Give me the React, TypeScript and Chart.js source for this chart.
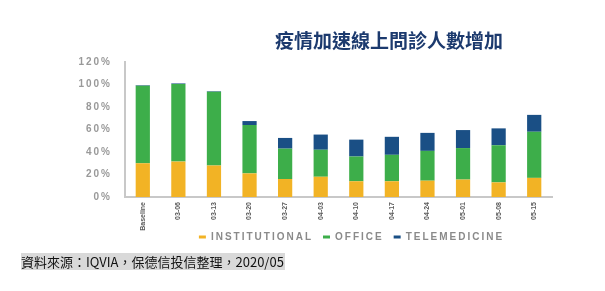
import React, { useEffect, useRef } from "react";
import { Chart, registerables } from "chart.js";

Chart.register(...registerables);

const categories = ["Baseline", "03-06", "03-13", "03-20", "03-27", "04-03", "04-10", "04-17", "04-24", "05-01", "05-08", "05-15"];
const institutional = [30, 31.5, 28, 21, 16, 18, 14, 14, 14.5, 15.5, 13, 17];
const office = [69, 69, 65.5, 43, 27, 24, 22, 23.5, 26.5, 28, 33, 41];
const telemedicine = [0.5, 0.5, 0.5, 3.5, 9.5, 13.5, 15, 16, 16, 16, 15, 15];
const yTicks = [0, 20, 40, 60, 80, 100, 120];
const titleText = "疫情加速線上問診人數增加";
const sourceText = "資料來源：IQVIA，保德信投信整理，2020/05";

const spacingPlugin = {
  id: "spacing",
  afterInit(chart: any) {
    chart.ctx.letterSpacing = "2px";
  },
  afterLayout(chart: any) {
    const lg = chart.legend;
    if (lg) {
      const h = lg.bottom - lg.top;
      const dx = 13;
      lg.left += dx;
      lg.right += dx;
      const top = 237 - h / 2;
      lg.top = top;
      lg.bottom = top + h;
    }
  },
};

const xLabelPlugin = {
  id: "xLabels",
  afterDraw(chart: any) {
    const sx = chart.scales.x;
    const ctx = chart.ctx;
    ctx.save();
    ctx.letterSpacing = "0px";
    ctx.fillStyle = "#5a5a5a";
    ctx.font = "bold 7px 'Liberation Sans', Arial";
    ctx.textAlign = "right";
    ctx.textBaseline = "middle";
    categories.forEach((c, i) => {
      const x = sx.getPixelForTick(i);
      ctx.save();
      ctx.translate(x, sx.top + 5);
      ctx.rotate(-Math.PI / 2);
      ctx.fillText(c, 0, 0);
      ctx.restore();
    });
    ctx.restore();
  },
};

export default function App() {
  const ref = useRef<HTMLCanvasElement | null>(null);
  useEffect(() => {
    if (!ref.current) return;
    const chart = new Chart(ref.current, {
      type: "bar",
      data: {
        labels: categories,
        datasets: [
          { label: "INSTITUTIONAL", data: institutional, backgroundColor: "#F2B325" },
          { label: "OFFICE", data: office, backgroundColor: "#3DAE4A" },
          { label: "TELEMEDICINE", data: telemedicine, backgroundColor: "#1A4F85" },
        ],
      },
      plugins: [spacingPlugin, xLabelPlugin],
      options: {
        animation: false,
        responsive: false,
        maintainAspectRatio: false,
        layout: { padding: { left: 0, right: 53, top: 62, bottom: 28 } },
        datasets: { bar: { barPercentage: 0.4, categoryPercentage: 1 } },
        plugins: {
          title: { display: false },
          tooltip: { enabled: false },
          legend: {
            position: "bottom",
            fullSize: false,
            labels: {
              boxWidth: 7,
              boxHeight: 3,
              padding: 10,
              color: "#8a8a8a",
              font: { family: "'Liberation Sans', Arial", size: 10, weight: "bold" },
            },
          },
        },
        scales: {
          x: {
            stacked: true,
            grid: { display: false },
            border: { display: true, color: "#c8c8c8", width: 2 },
            ticks: { display: false },
            afterFit: (s: any) => {
              s.height = 36;
            },
          },
          y: {
            stacked: true,
            min: 0,
            max: 120,
            afterBuildTicks: (s: any) => {
              s.ticks = yTicks.map((v) => ({ value: v }));
            },
            grid: { display: false },
            border: { display: true, color: "#c8c8c8", width: 2 },
            ticks: {
              color: "#999",
              padding: 5,
              font: { family: "'Liberation Sans', Arial", size: 10, weight: "bold" },
              callback: (v: any) => v + "%",
            },
            afterFit: (s: any) => {
              s.width = 125;
            },
          },
        },
      },
    });
    return () => chart.destroy();
  }, []);

  return (
    <div style={{ position: "fixed", left: 0, top: 0, width: 605, height: 291, background: "#fff" }}>
      <canvas ref={ref} width={605} height={291} style={{ position: "absolute", left: 0, top: 0, width: 605, height: 291 }} />
      <div
        style={{
          position: "absolute",
          left: 200,
          top: 28,
          width: 378,
          textAlign: "center",
          fontFamily: "'Noto Sans CJK TC', sans-serif",
          fontWeight: 700,
          fontSize: 19,
          lineHeight: "24px",
          color: "#1C3A6E",
          whiteSpace: "nowrap",
        }}
      >
        {titleText}
      </div>
      <div
        style={{
          position: "absolute",
          left: 21,
          top: 253,
          height: 17,
          width: 264,
          background: "#d9d9d9",
          fontFamily: "'Noto Sans CJK TC', sans-serif",
          fontSize: 13,
          lineHeight: "17px",
          color: "#111",
          whiteSpace: "nowrap",
        }}
      >
        {sourceText}
      </div>
    </div>
  );
}
